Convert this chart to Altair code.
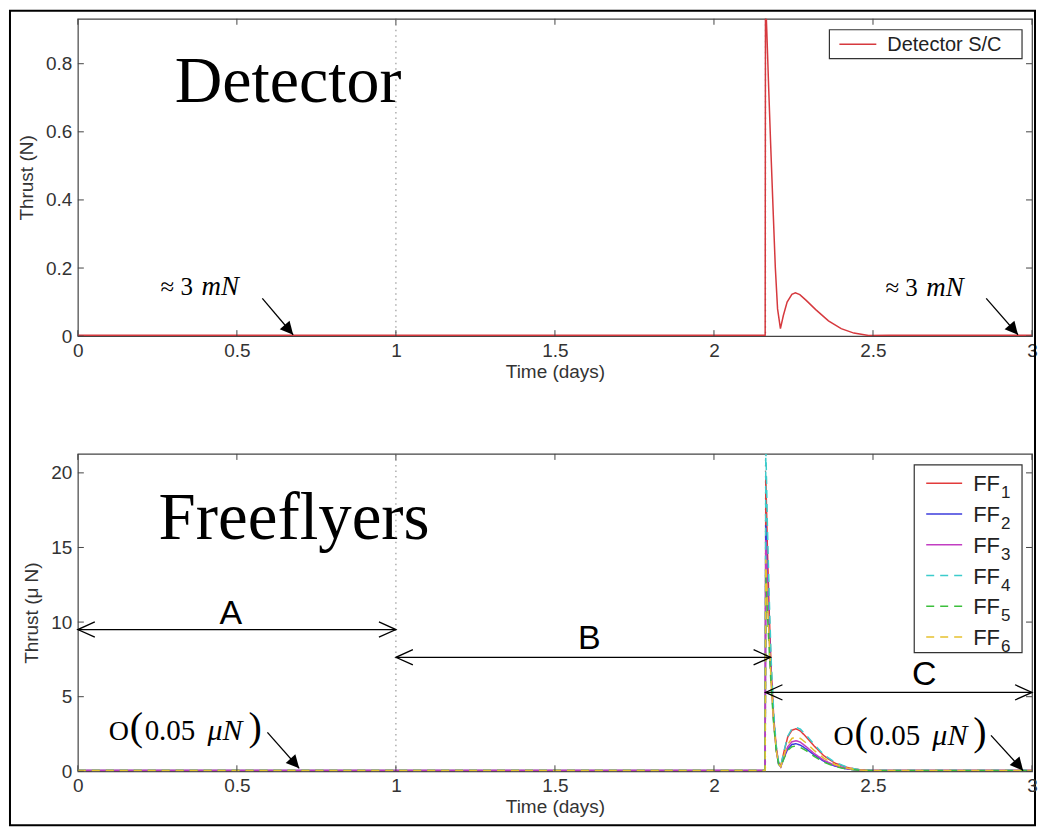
import altair as alt
import pandas as pd

# ---------------- data ----------------
TOP_T = [0.0, 0.5, 1.0, 1.5, 2.0, 2.161, 2.162, 2.166, 2.172, 2.178, 2.186, 2.193, 2.200, 2.209,
         2.218, 2.230, 2.245, 2.256, 2.270, 2.290, 2.320, 2.360, 2.400, 2.440, 2.486, 2.55, 2.70, 2.85, 3.0]
DETECTOR_N = [0.003, 0.003, 0.003, 0.003, 0.003, 0.003, 1.0, 0.90, 0.73, 0.57, 0.37, 0.20, 0.08, 0.022,
              0.06, 0.10, 0.123, 0.127, 0.122, 0.105, 0.078, 0.045, 0.022, 0.009, 0.002, 0.003, 0.003, 0.003, 0.003]

FF_T = [0.0, 0.5, 1.0, 1.5, 2.0, 2.161, 2.163, 2.168, 2.174, 2.180, 2.188, 2.196, 2.203, 2.210,
        2.220, 2.232, 2.245, 2.258, 2.272, 2.290, 2.315, 2.345, 2.380, 2.420, 2.460, 2.500, 2.700, 3.000]
FF1 = [0.05, 0.05, 0.05, 0.05, 0.05, 0.05, 19.8, 15.0, 10.5, 6.8, 3.6, 1.6, 0.6, 0.35,
       1.3, 2.3, 2.75, 2.85, 2.7, 2.3, 1.7, 1.05, 0.55, 0.25, 0.1, 0.05, 0.05, 0.05]
FF2 = [0.05, 0.05, 0.05, 0.05, 0.05, 0.05, 16.5, 12.8, 9.2, 6.2, 3.3, 1.4, 0.5, 0.3,
       0.9, 1.5, 1.8, 1.85, 1.75, 1.5, 1.1, 0.68, 0.35, 0.15, 0.07, 0.05, 0.05, 0.05]
FF3 = [0.05, 0.05, 0.05, 0.05, 0.05, 0.05, 15.5, 12.3, 9.0, 6.1, 3.3, 1.45, 0.55, 0.3,
       1.0, 1.65, 1.98, 2.05, 1.95, 1.65, 1.2, 0.75, 0.4, 0.17, 0.07, 0.05, 0.05, 0.05]
FF4 = [0.05, 0.05, 0.05, 0.05, 0.05, 0.05, 22.0, 16.5, 11.5, 7.4, 3.9, 1.7, 0.65, 0.35,
       1.35, 2.35, 2.85, 2.95, 2.82, 2.42, 1.8, 1.12, 0.6, 0.27, 0.1, 0.05, 0.05, 0.05]
FF5 = [0.05, 0.05, 0.05, 0.05, 0.05, 0.05, 13.0, 10.6, 8.0, 5.6, 3.1, 1.35, 0.5, 0.3,
       0.85, 1.4, 1.65, 1.7, 1.6, 1.38, 1.0, 0.62, 0.32, 0.14, 0.06, 0.05, 0.05, 0.05]
FF6 = [0.05, 0.05, 0.05, 0.05, 0.05, 0.05, 14.2, 11.5, 8.6, 5.9, 3.2, 1.4, 0.52, 0.3,
       1.05, 1.8, 2.2, 2.3, 2.2, 1.9, 1.4, 0.88, 0.46, 0.2, 0.08, 0.05, 0.05, 0.05]

FF_NAMES = ["FF1", "FF2", "FF3", "FF4", "FF5", "FF6"]
FF_SUBS = ["1", "2", "3", "4", "5", "6"]
FF_VALUES = [FF1, FF2, FF3, FF4, FF5, FF6]

X_TICKS = [0, 0.5, 1, 1.5, 2, 2.5, 3]
TOP_Y_TICKS = [0, 0.2, 0.4, 0.6, 0.8]
BOT_Y_TICKS = [0, 5, 10, 15, 20]
PHASE_LINES_T = [1.0, 2.162]

PHASES = ["A", "B", "C"]
PHASE_START = [0.0, 1.0, 2.162]
PHASE_END = [1.0, 2.178, 3.0]
PHASE_Y = [9.5, 7.64, 5.29]
PHASE_LABEL_T = [0.481, 1.608, 2.661]
PHASE_LABEL_Y = [9.9, 8.17, 5.76]

# ---------------- styles ----------------
W, H = 956, 318
X_DOMAIN = [0, 3]
TOP_Y_DOMAIN = [0, 0.932]
BOT_Y_DOMAIN = [0, 21.27]
SANS = "Liberation Sans"
SERIF = "Liberation Serif"
AX_COLOR = "#333333"
FRAME = "#444444"
DET_COLOR = "#d6393e"
FF_COLORS = ["#e23b3b", "#3c3cdc", "#c23ec2", "#3ccccc", "#3cbf3c", "#e6c12e"]
FF_DASH = [[1, 0], [1, 0], [1, 0], [8, 6], [8, 6], [8, 6]]
TRI = "M0,0L-1,-0.5L-1,0.5Z"
RCHEV = "M-1,-0.45L0,0L-1,0.45"
LCHEV = "M1,-0.45L0,0L1,0.45"

DUMMY = pd.DataFrame({"k": [0]})

x_axis = alt.Axis(values=X_TICKS, format="~g", title="Time (days)", ticks=False, domain=False, grid=False,
                  labelFontSize=19, labelPadding=5, titleFontSize=19, titlePadding=2, labelFlush=False,
                  labelColor=AX_COLOR, titleColor=AX_COLOR, labelFont=SANS, titleFont=SANS,
                  titleFontWeight="normal")


def y_axis(values, title):
    return alt.Axis(values=values, format="~g", title=title, ticks=False, domain=False, grid=False,
                    labelFontSize=19, labelPadding=6, titleFontSize=19, titlePadding=9,
                    labelColor=AX_COLOR, titleColor=AX_COLOR, labelFont=SANS, titleFont=SANS,
                    titleFontWeight="normal")


top_y_axis = y_axis(TOP_Y_TICKS, "Thrust (N)")
bot_y_axis = y_axis(BOT_Y_TICKS, "Thrust (\u03bc N)")


def X(f):
    return alt.X(f"{f}:Q", scale=alt.Scale(domain=X_DOMAIN, nice=False, zero=False), axis=x_axis)


def YT(f):
    return alt.Y(f"{f}:Q", scale=alt.Scale(domain=TOP_Y_DOMAIN, nice=False, zero=False), axis=top_y_axis)


def YB(f):
    return alt.Y(f"{f}:Q", scale=alt.Scale(domain=BOT_Y_DOMAIN, nice=False, zero=False), axis=bot_y_axis)


def frame_ticks(Yf, yticks):
    xt = pd.DataFrame({"v": X_TICKS})
    yt = pd.DataFrame({"v": yticks})
    base_x = alt.Chart(xt).mark_rule(color=FRAME, strokeWidth=1)
    base_y = alt.Chart(yt).mark_rule(color=FRAME, strokeWidth=1)
    return [
        base_x.encode(x=X("v"), y=alt.value(H), y2=alt.value(H - 6)),
        base_x.encode(x=X("v"), y=alt.value(0), y2=alt.value(6)),
        base_y.encode(y=Yf("v"), x=alt.value(0), x2=alt.value(6)),
        base_y.encode(y=Yf("v"), x=alt.value(W - 6), x2=alt.value(W)),
    ]


def text_at(Yf, t, y, s, dx=0, size=26, font=SERIF, style="normal", align="left", color="black"):
    df = pd.DataFrame({"t": [t], "y": [y], "s": [s]})
    return alt.Chart(df).mark_text(font=font, fontSize=size, fontStyle=style, align=align,
                                   baseline="alphabetic", dx=dx, color=color).encode(
        x=X("t"), y=Yf("y"), text="s:N")


def arrow(Yf, t1, y1, t2, y2, angle):
    df = pd.DataFrame({"x1": [t1], "y1": [y1], "x2": [t2], "y2": [y2]})
    line = alt.Chart(df).mark_rule(color="black", strokeWidth=1.3).encode(
        x=X("x1"), y=Yf("y1"), x2="x2:Q", y2="y2:Q")
    head = alt.Chart(df).mark_point(shape=TRI, filled=True, size=676, angle=angle, color="black",
                                    opacity=1).encode(x=X("x2"), y=Yf("y2"))
    return [line, head]


def phase_lines(Yf, colors):
    out = []
    for t, c in zip(PHASE_LINES_T, colors):
        df = pd.DataFrame({"t": [t]})
        out.append(alt.Chart(df).mark_rule(color=c, strokeWidth=1.2, strokeDash=[1.5, 4]).encode(
            x=X("t"), y=alt.value(0), y2=alt.value(H)))
    return out


# ---------------- top panel ----------------
top_df = pd.DataFrame({"t": TOP_T, "thrust": DETECTOR_N})
top_layers = []
top_layers += phase_lines(YT, ["#9a9a9a", "#555555"])
top_layers.append(alt.Chart(top_df).mark_line(color=DET_COLOR, strokeWidth=1.5, clip=True).encode(
    x=X("t"), y=YT("thrust")))
top_layers += frame_ticks(YT, TOP_Y_TICKS)
top_layers.append(text_at(YT, 0.661, 0.688, "Detector", size=66, align="center"))
# annotations
top_layers.append(text_at(YT, 0.26, 0.12, "\u2248 3", size=25))
top_layers.append(text_at(YT, 0.26, 0.12, "mN", dx=41, size=27, style="italic"))
top_layers += arrow(YT, 0.58, 0.111, 0.677, 0.004, 49)
top_layers.append(text_at(YT, 2.539, 0.118, "\u2248 3", size=25))
top_layers.append(text_at(YT, 2.539, 0.118, "mN", dx=41, size=27, style="italic"))
top_layers += arrow(YT, 2.856, 0.111, 2.956, 0.004, 49)
# legend
top_layers.append(alt.Chart(DUMMY).mark_rect(fill="white", stroke="#333333", strokeWidth=1.2).encode(
    x=alt.value(753), x2=alt.value(946), y=alt.value(11), y2=alt.value(40)))
top_layers.append(alt.Chart(DUMMY).mark_rule(color=DET_COLOR, strokeWidth=1.5).encode(
    x=alt.value(763), x2=alt.value(800), y=alt.value(25.5)))
top_layers.append(alt.Chart(DUMMY).mark_text(text="Detector S/C", font=SANS, fontSize=20, align="left",
                                             baseline="middle", color="#222222").encode(
    x=alt.value(811), y=alt.value(26)))
# figure border
top_layers.append(alt.Chart(DUMMY).mark_rect(fillOpacity=0, stroke="black", strokeWidth=2).encode(
    x=alt.value(-68), x2=alt.value(W + 3), y=alt.value(-8), y2=alt.value(808)))

top = alt.layer(*top_layers).properties(width=W, height=H)

# ---------------- bottom panel ----------------
rows = []
for name, vals in zip(FF_NAMES, FF_VALUES):
    for t, v in zip(FF_T, vals):
        rows.append({"t": t, "thrust": v, "series": name})
ff_df = pd.DataFrame(rows)

bot_layers = []
bot_layers += phase_lines(YB, ["#9a9a9a", "#8a8a8a"])
bot_layers.append(alt.Chart(ff_df).mark_line(strokeWidth=1.5, clip=True).encode(
    x=X("t"), y=YB("thrust"),
    color=alt.Color("series:N", scale=alt.Scale(domain=FF_NAMES, range=FF_COLORS), legend=None),
    strokeDash=alt.StrokeDash("series:N", scale=alt.Scale(domain=FF_NAMES, range=FF_DASH), legend=None)))
bot_layers += frame_ticks(YB, BOT_Y_TICKS)
bot_layers.append(text_at(YB, 0.68, 15.6, "Freeflyers", size=67, align="center"))

# phase arrows
ph_df = pd.DataFrame({"p": PHASES, "x1": PHASE_START, "x2": PHASE_END, "y": PHASE_Y,
                      "lt": PHASE_LABEL_T, "ly": PHASE_LABEL_Y})
bot_layers.append(alt.Chart(ph_df).mark_rule(color="black", strokeWidth=1.3).encode(
    x=X("x1"), x2="x2:Q", y=YB("y")))
bot_layers.append(alt.Chart(ph_df).mark_point(shape=LCHEV, filled=False, size=1156, color="black",
                                              strokeWidth=1.3, opacity=1).encode(x=X("x1"), y=YB("y")))
bot_layers.append(alt.Chart(ph_df).mark_point(shape=RCHEV, filled=False, size=1156, color="black",
                                              strokeWidth=1.3, opacity=1).encode(x=X("x2"), y=YB("y")))
bot_layers.append(alt.Chart(ph_df).mark_text(font=SANS, fontSize=34, align="center", baseline="alphabetic",
                                             color="black").encode(x=X("lt"), y=YB("ly"), text="p:N"))


def order_note(t, y):
    return [
        text_at(YB, t, y, "O", size=28),
        text_at(YB, t, y, "(", dx=21, size=40),
        text_at(YB, t, y, "0.05", dx=36, size=29),
        text_at(YB, t, y, "\u03bcN", dx=99, size=30, style="italic"),
        text_at(YB, t, y, ")", dx=140, size=40),
    ]


bot_layers += order_note(0.097, 2.08)
bot_layers += arrow(YB, 0.596, 2.61, 0.696, 0.2, 48)
bot_layers += order_note(2.376, 1.74)
bot_layers += arrow(YB, 2.871, 2.41, 2.972, 0.05, 49)

# legend
bot_layers.append(alt.Chart(DUMMY).mark_rect(fill="white", stroke="#333333", strokeWidth=1.2).encode(
    x=alt.value(838), x2=alt.value(946), y=alt.value(11), y2=alt.value(199)))
for i, (sub, col, dash) in enumerate(zip(FF_SUBS, FF_COLORS, FF_DASH)):
    yy = 29.5 + 30.8 * i
    bot_layers.append(alt.Chart(DUMMY).mark_rule(color=col, strokeWidth=1.5, strokeDash=dash).encode(
        x=alt.value(850), x2=alt.value(886), y=alt.value(yy)))
    bot_layers.append(alt.Chart(DUMMY).mark_text(text="FF", font=SANS, fontSize=22, align="left",
                                                 baseline="middle", color="#222222").encode(
        x=alt.value(897), y=alt.value(yy + 1)))
    bot_layers.append(alt.Chart(DUMMY).mark_text(text=sub, font=SANS, fontSize=17, align="left",
                                                 baseline="middle", color="#222222").encode(
        x=alt.value(925), y=alt.value(yy + 10)))

bottom = alt.layer(*bot_layers).properties(width=W, height=H)

chart = alt.vconcat(top, bottom, spacing=118, bounds="flush").properties(
    padding={"left": 8, "top": 8, "right": 0, "bottom": 1},
    background="white",
).configure_view(stroke=FRAME, strokeWidth=1.2)

chart.save("out.html", embed_options={"renderer": "svg", "actions": False})
